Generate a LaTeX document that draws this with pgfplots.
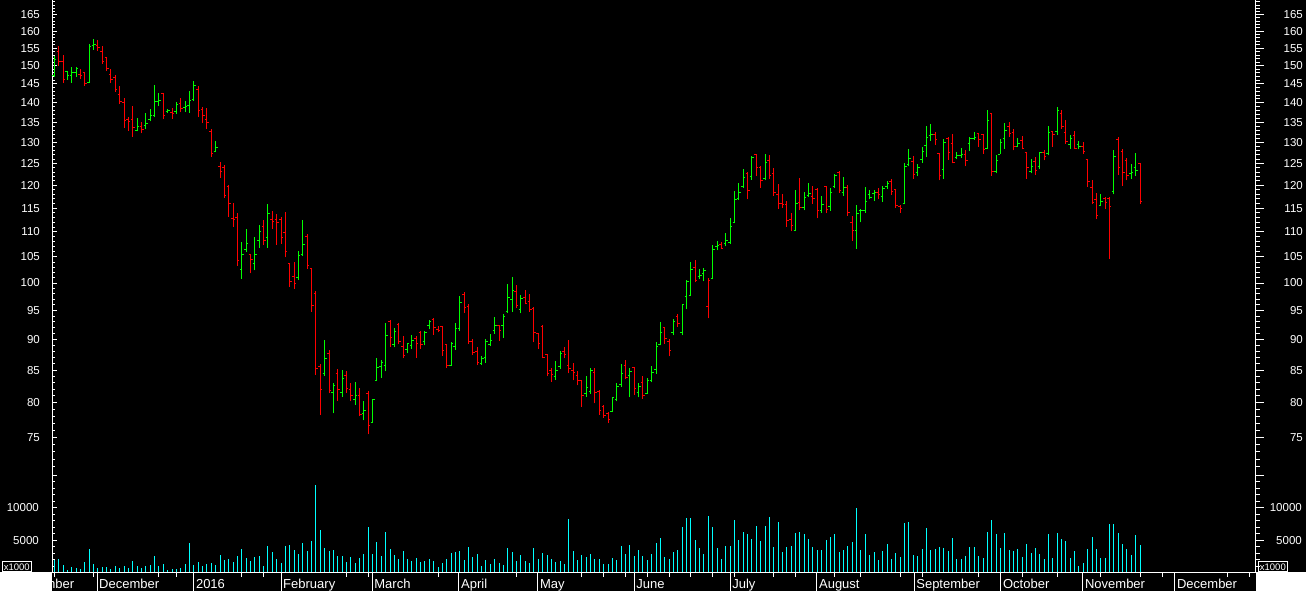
\documentclass[border=0pt]{standalone}
\usepackage{fontspec}
\setmainfont{Liberation Sans}
\usepackage{pgfplots}
\usepackage{pgfplotstable}
\pgfplotsset{compat=1.18}

\definecolor{upg}{RGB}{0,255,0}
\definecolor{dnr}{RGB}{255,0,0}
\definecolor{volc}{RGB}{0,255,255}

\pgfdeclareplotmark{otick}{\pgfpathmoveto{\pgfqpoint{-2pt}{0pt}}\pgfpathlineto{\pgfqpoint{0pt}{0pt}}\pgfusepathqstroke}
\pgfdeclareplotmark{ctick}{\pgfpathmoveto{\pgfqpoint{0pt}{0pt}}\pgfpathlineto{\pgfqpoint{2pt}{0pt}}\pgfusepathqstroke}
\pgfdeclareplotmark{nothing}{}

\newcommand\tickfont{\fontsize{11.5}{12}\selectfont}
\newcommand\monthfont{\fontsize{13}{14}\selectfont}

\pgfplotstableread{
i o h l c v u
0 147.2 152.8 147.0 151.8 1920 1
1 154.1 155.5 150.0 151.3 2070 0
2 151.3 153.1 145.2 146.1 1160 0
3 148.3 148.6 146.1 147.2 400 1
4 147.4 149.6 145.3 148.1 860 1
5 148.1 149.6 147.0 149.3 710 1
6 147.7 149.0 146.3 147.2 560 0
7 148.1 148.3 144.5 145.0 1620 0
8 145.3 156.2 145.2 155.5 3590 1
9 155.8 157.7 154.5 156.2 1310 1
10 155.9 157.4 154.3 155.3 710 0
11 154.0 155.6 150.6 151.3 860 0
12 152.3 152.5 148.5 149.3 860 0
13 147.6 149.1 145.2 146.1 560 0
14 146.7 147.4 142.9 143.6 1010 0
15 142.2 144.4 139.8 140.2 710 0
16 140.1 141.3 133.6 135.4 1010 0
17 135.7 136.3 132.9 135.2 710 0
18 135.6 139.2 131.4 133.6 1770 0
19 132.9 136.1 132.7 134.0 1010 1
20 133.9 135.1 132.2 133.2 710 0
21 134.2 137.4 133.3 134.6 1010 1
22 135.7 138.4 135.2 136.8 1160 1
23 136.6 144.7 136.3 140.2 2530 1
24 140.3 142.6 139.2 140.6 1010 1
25 142.5 142.6 135.7 136.6 1310 0
26 137.7 138.4 137.3 138.1 400 1
27 137.5 138.6 135.9 137.2 560 0
28 137.7 140.3 137.2 139.6 560 1
29 139.9 141.3 137.5 138.6 710 0
30 138.7 140.5 137.6 139.0 1310 1
31 139.2 143.1 137.4 140.7 4490 1
32 140.9 145.8 140.5 144.7 1160 1
33 143.6 144.4 136.3 138.0 1620 0
34 138.3 138.9 134.9 136.8 1010 0
35 135.6 138.6 133.3 135.0 1310 0
36 132.7 133.3 126.6 127.4 1460 0
37 127.9 130.4 127.7 128.8 1160 1
38 124.4 125.4 121.7 123.1 2680 0
39 124.0 124.7 117.3 117.8 1920 0
40 119.7 120.1 113.2 116.1 2070 0
41 112.9 116.1 111.1 112.5 1620 0
42 113.1 114.0 103.3 104.2 2530 0
43 102.5 108.0 100.8 105.5 3590 1
44 106.4 110.6 106.0 107.7 2220 1
45 105.4 105.6 101.8 104.5 1770 0
46 103.8 109.0 102.4 105.5 2370 1
47 108.3 111.4 106.8 110.1 2530 1
48 111.2 112.4 107.4 108.3 1010 0
49 108.9 115.9 106.8 113.9 4040 1
50 112.6 114.3 110.7 112.1 3130 0
51 112.6 113.8 107.4 111.9 2070 0
52 112.6 113.1 107.6 108.9 1460 0
53 109.9 114.2 104.9 106.1 4040 0
54 103.8 103.8 99.3 100.3 4190 0
55 101.3 104.0 98.9 100.0 3430 0
56 101.1 106.2 100.6 105.3 2830 1
57 105.4 112.5 105.2 107.5 4490 1
58 109.1 109.6 102.7 103.4 3280 0
59 102.7 102.9 94.8 95.9 4800 0
60 98.1 98.5 84.3 85.2 13480 0
61 85.6 86.0 78.2 82.0 6620 0
62 84.5 89.9 84.1 86.8 3740 1
63 87.7 88.3 81.4 81.9 3280 0
64 81.6 83.0 78.4 82.6 3430 1
65 84.5 85.2 80.3 82.0 2530 0
66 81.6 85.0 80.9 83.7 2530 1
67 84.2 84.9 81.5 82.2 1620 0
68 82.0 83.0 80.2 81.0 2370 0
69 80.5 83.2 79.7 81.1 1460 1
70 81.1 82.2 78.0 78.3 2220 0
71 78.4 80.3 77.4 78.9 2830 1
72 81.4 81.8 75.4 76.7 7070 0
73 77.1 80.6 77.1 80.4 2830 1
74 83.4 87.0 83.3 85.4 4650 1
75 85.6 86.6 83.8 86.2 2530 1
76 85.8 92.8 84.8 90.7 6310 1
77 93.1 93.4 88.7 90.4 3590 0
78 89.1 92.0 88.7 91.4 2680 1
79 92.5 92.8 89.2 89.6 2070 0
80 88.9 90.6 86.9 87.4 3280 0
81 88.4 89.4 87.7 89.3 2070 1
82 89.0 90.8 88.4 89.9 1770 1
83 90.2 90.6 87.0 89.4 2220 0
84 91.2 91.5 88.5 89.1 1620 0
85 89.6 91.5 89.0 91.2 1770 1
86 92.3 93.4 91.7 93.0 2070 1
87 93.5 93.7 90.8 92.1 1770 0
88 91.7 92.3 91.2 91.5 860 0
89 92.2 92.3 87.3 88.2 1460 0
90 89.1 89.1 85.3 85.8 2070 0
91 85.8 89.6 85.7 89.3 2980 1
92 88.8 92.8 88.3 91.9 3130 1
93 91.9 97.6 91.5 96.5 3280 1
94 97.8 98.4 94.6 95.6 1920 0
95 95.7 96.2 89.3 89.6 3890 0
96 89.7 90.1 87.5 87.9 2370 0
97 88.0 88.7 85.8 86.2 2830 0
98 86.1 87.3 85.8 86.9 1010 1
99 87.1 90.1 86.2 89.6 1920 1
100 89.1 91.0 88.9 89.8 1310 1
101 91.6 93.9 91.0 92.4 2070 1
102 92.3 92.4 89.8 91.6 1460 0
103 92.3 94.4 90.3 93.9 1160 1
104 94.8 99.8 94.6 97.3 3740 1
105 97.0 101.2 94.8 98.7 3130 1
106 98.4 99.6 95.4 95.9 1770 0
107 95.2 97.8 94.5 97.1 2680 1
108 97.3 98.7 96.1 96.3 1770 0
109 96.7 98.0 94.8 95.2 1460 0
110 95.4 95.7 89.5 91.2 3740 0
111 91.0 91.1 88.5 89.3 2070 0
112 92.2 92.4 86.9 87.1 2980 0
113 87.5 87.6 84.0 84.4 2680 0
114 84.9 85.4 83.2 84.3 2070 0
115 84.0 86.5 83.5 85.0 1620 1
116 85.5 88.1 85.2 87.7 1770 1
117 88.0 88.7 86.9 87.5 1310 0
118 85.8 89.9 84.5 85.2 8280 0
119 84.9 86.2 83.4 84.6 3280 0
120 84.1 84.9 82.6 83.4 1920 0
121 83.4 83.5 79.4 81.0 2680 0
122 81.4 84.0 80.9 82.3 2370 1
123 81.7 85.4 81.3 84.9 2830 1
124 84.7 85.4 79.9 81.6 2070 0
125 81.7 81.9 78.2 78.8 2070 0
126 79.4 79.7 77.8 78.1 1310 0
127 78.4 78.6 77.0 77.6 1310 0
128 78.7 80.9 78.6 80.7 2220 1
129 80.4 83.0 80.2 82.5 1920 1
130 82.7 85.9 82.4 84.5 4040 1
131 85.8 86.7 83.6 83.9 2830 0
132 84.2 85.4 80.8 84.8 4190 1
133 85.4 85.5 81.2 82.2 2530 0
134 81.5 83.0 80.8 82.5 3430 1
135 83.0 84.0 80.6 81.0 2530 0
136 81.4 83.8 81.3 83.3 1920 1
137 83.3 85.7 83.1 84.7 2830 1
138 85.1 89.6 84.4 88.9 4490 1
139 89.2 93.0 89.0 91.1 5250 1
140 92.0 92.1 89.3 90.2 2370 0
141 89.7 90.0 87.2 88.1 2070 0
142 91.1 93.5 90.7 93.0 3130 1
143 93.9 94.4 92.2 92.8 3430 0
144 91.1 96.2 90.7 96.0 7070 1
145 97.5 100.6 95.2 100.2 8430 1
146 97.7 104.0 97.7 102.6 8430 1
147 103.0 104.4 100.1 100.5 4950 0
148 101.2 102.7 100.8 101.5 3740 1
149 101.8 102.9 100.3 102.4 2830 1
150 95.8 101.0 93.6 100.4 8740 0
151 100.8 107.3 100.7 106.5 7070 1
152 107.1 108.2 106.3 107.3 3740 1
153 107.5 108.0 106.6 106.7 2070 0
154 107.7 109.8 107.1 108.3 4040 1
155 107.8 112.9 107.6 111.2 4040 1
156 112.0 118.8 111.8 116.9 8130 1
157 117.1 120.5 116.8 118.5 4950 1
158 119.7 123.7 119.5 121.8 6310 1
159 122.7 123.0 116.9 118.9 6010 0
160 122.0 126.8 121.3 126.3 5100 1
161 127.0 127.2 122.2 124.1 7220 0
162 124.1 124.4 119.5 121.2 4800 0
163 121.6 127.2 121.1 125.3 7220 1
164 125.8 126.9 121.5 122.3 8590 0
165 122.6 124.0 117.7 118.5 3890 0
166 118.0 120.3 114.9 115.9 7830 0
167 116.1 118.1 115.1 115.8 3130 0
168 115.8 116.5 111.1 112.4 3890 0
169 112.5 114.0 110.1 111.3 4040 0
170 110.4 119.0 110.4 116.1 6160 1
171 116.3 121.6 114.5 115.2 6310 0
172 115.2 118.5 114.5 117.4 5860 1
173 117.7 120.5 117.5 118.1 5100 1
174 117.5 119.9 116.0 117.1 3890 0
175 119.0 119.4 112.8 114.6 3430 0
176 114.6 117.7 114.0 115.7 3430 1
177 119.7 119.9 113.9 114.8 4950 0
178 115.4 119.4 114.4 118.3 5400 1
179 119.7 122.6 119.4 122.3 6010 1
180 123.0 123.2 118.3 118.8 3130 0
181 118.5 121.9 117.7 119.6 3430 1
182 119.6 120.1 113.4 114.1 4040 0
183 112.0 113.4 108.2 110.2 4650 0
184 110.2 115.7 106.6 113.9 9950 1
185 114.6 114.9 112.0 114.4 3430 1
186 114.6 119.6 114.0 116.5 6010 1
187 118.0 119.0 116.9 117.4 2680 1
188 118.1 119.0 116.5 118.3 3130 1
189 118.3 119.4 116.9 118.0 1920 0
190 117.5 119.9 116.4 119.3 3280 1
191 119.7 121.0 119.2 120.5 4340 1
192 120.8 121.5 117.9 118.7 2070 0
193 119.0 119.2 115.1 115.6 2980 0
194 115.4 115.6 114.0 114.9 2370 0
195 116.1 125.1 115.8 124.4 7680 1
196 124.7 128.4 124.3 126.1 7830 1
197 125.5 126.8 121.5 122.5 2680 0
198 122.8 124.9 122.1 124.1 2530 1
199 126.0 129.0 125.2 127.9 3590 1
200 129.2 134.1 126.5 131.3 6920 1
201 131.6 134.6 130.4 132.0 3430 1
202 132.0 132.5 129.4 130.6 3590 0
203 127.3 127.5 121.1 122.3 3890 0
204 123.6 130.9 121.5 130.1 3740 1
205 130.9 131.4 125.9 127.7 3280 0
206 129.8 132.1 125.0 125.2 5250 0
207 126.3 127.7 126.1 126.8 2070 1
208 126.8 128.7 126.4 127.0 2070 1
209 127.2 128.1 124.3 125.6 2530 0
210 129.8 131.4 127.9 130.9 3890 1
211 131.0 132.6 130.7 131.1 3890 1
212 132.1 132.3 129.0 130.6 2530 0
213 132.0 132.0 127.3 128.2 2220 0
214 128.5 138.1 128.4 135.5 6310 1
215 137.1 137.3 122.2 123.2 8130 0
216 123.2 127.0 122.7 125.8 5860 1
217 127.2 130.9 127.2 130.1 3740 1
218 131.0 134.8 128.5 133.0 6160 1
219 134.0 135.1 131.4 132.3 3430 0
220 132.5 133.3 128.1 129.1 3280 0
221 129.1 131.1 128.8 129.8 3590 1
222 130.5 131.6 128.3 128.6 2370 0
223 127.7 127.7 121.5 124.0 4340 0
224 123.1 126.1 122.7 124.2 2980 1
225 125.5 126.6 122.4 123.4 3740 0
226 124.3 127.7 123.8 127.6 2830 1
227 127.7 128.1 125.7 126.7 2070 0
228 127.4 134.1 126.9 132.5 5860 1
229 132.7 132.8 129.0 132.0 2220 0
230 132.8 138.9 131.9 138.1 6160 1
231 137.3 138.1 133.4 134.0 5100 0
232 132.5 135.6 129.7 130.2 4800 0
233 129.6 131.8 128.5 131.0 2220 1
234 131.8 132.9 128.4 128.6 3280 0
235 129.4 130.4 128.3 129.0 1000 1
236 128.9 130.1 127.3 127.9 1460 0
237 126.0 126.1 119.7 120.9 3590 0
238 119.6 121.2 115.8 116.2 5400 0
239 116.9 118.3 112.6 113.5 3590 0
240 115.6 118.1 115.6 116.5 2220 1
241 117.1 117.4 114.8 116.3 2220 0
242 117.1 117.4 104.6 115.4 7530 0
243 118.6 128.2 118.0 126.7 7530 1
244 130.6 131.4 122.4 124.0 6160 0
245 127.8 128.4 119.9 122.9 4340 0
246 125.8 126.3 121.1 122.3 3590 0
247 122.6 124.9 121.5 122.8 2680 1
248 124.0 127.5 122.2 123.4 5710 1
249 124.9 125.0 116.0 116.5 4190 0
}\data

\begin{document}
\begin{tikzpicture}[x=1pt,y=1pt]
\useasboundingbox (0,0) rectangle (1306,591);
\fill[black] (0,0) rectangle (1306,591);

% price panel (left scale + data)
\begin{axis}[scale only axis, width=1204pt, height=470pt,
  at={(52pt,121pt)}, anchor=south west,
  xmin=-0.53, xmax=275.6, ymode=log, ymin=70.56, ymax=169.6,
  axis x line=none, xtick=\empty, axis y line*=left,
  axis line style={white, line width=1pt},
  tick style={white, line width=1pt},
  ytick align=inside, major tick length=5pt, minor tick length=3pt,
  ytick={75,80,85,90,95,100,105,110,115,120,125,130,135,140,145,150,155,160,165},
  yticklabels={75,80,85,90,95,100,105,110,115,120,125,130,135,140,145,150,155,160,165},
  minor ytick={71,72,...,169},
  yticklabel style={text=white, font=\tickfont, inner sep=0pt, anchor=east, xshift=-12pt},
  clip=false]
\addplot[upg, only marks, mark=nothing, forget plot,
  restrict expr to domain={\thisrow{u}}{0.5:1.5},
  error bars/y dir=plus, error bars/y explicit, error bars/error mark=none,
  error bars/error bar style={line width=1pt, upg}]
  table[x=i, y=l, y error plus expr=\thisrow{h}-\thisrow{l}] {\data};
\addplot[dnr, only marks, mark=nothing, forget plot,
  restrict expr to domain={\thisrow{u}}{-0.5:0.5},
  error bars/y dir=plus, error bars/y explicit, error bars/error mark=none,
  error bars/error bar style={line width=1pt, dnr}]
  table[x=i, y=l, y error plus expr=\thisrow{h}-\thisrow{l}] {\data};
\addplot[upg, only marks, mark=otick, line width=1pt, restrict expr to domain={\thisrow{u}}{0.5:1.5}]
  table[x=i, y=o] {\data};
\addplot[upg, only marks, mark=ctick, line width=1pt, restrict expr to domain={\thisrow{u}}{0.5:1.5}]
  table[x=i, y=c] {\data};
\addplot[dnr, only marks, mark=otick, line width=1pt, restrict expr to domain={\thisrow{u}}{-0.5:0.5}]
  table[x=i, y=o] {\data};
\addplot[dnr, only marks, mark=ctick, line width=1pt, restrict expr to domain={\thisrow{u}}{-0.5:0.5}]
  table[x=i, y=c] {\data};
\end{axis}

% price panel right scale
\begin{axis}[scale only axis, width=1204pt, height=470pt,
  at={(52pt,121pt)}, anchor=south west,
  xmin=-0.53, xmax=275.6, ymode=log, ymin=70.56, ymax=169.6,
  axis x line=none, xtick=\empty, axis y line*=right,
  axis line style={white, line width=1pt},
  tick style={white, line width=1pt},
  ytick align=outside, major tick length=8pt, minor tick length=4pt,
  ytick={75,80,85,90,95,100,105,110,115,120,125,130,135,140,145,150,155,160,165},
  yticklabels={75,80,85,90,95,100,105,110,115,120,125,130,135,140,145,150,155,160,165},
  minor ytick={71,72,...,169},
  yticklabel style={text=white, font=\tickfont, inner sep=0pt, anchor=east, xshift=39pt},
  clip=false]
\addplot[draw=none] coordinates {(0,100)};
\end{axis}

% volume panel
\begin{axis}[scale only axis, width=1204pt, height=102.5pt,
  at={(52pt,18.5pt)}, anchor=south west,
  xmin=-0.53, xmax=275.6, ymin=0, ymax=15800,
  axis x line=none, xtick=\empty, axis y line*=left,
  axis line style={white, line width=1pt},
  tick style={white, line width=1pt},
  ytick align=inside, major tick length=5pt, minor tick length=3pt,
  scaled y ticks=false,
  ytick={0,5000,10000,15000}, yticklabels={,5000,10000,},
  minor ytick={1000,2000,...,15000},
  yticklabel style={text=white, font=\tickfont, inner sep=0pt, anchor=east, xshift=-13pt},
  clip=false]
\addplot[ycomb, volc, line width=1pt, mark=none] table[x=i, y=v] {\data};
\end{axis}
\begin{axis}[scale only axis, width=1204pt, height=102.5pt,
  at={(52pt,18.5pt)}, anchor=south west,
  xmin=-0.53, xmax=275.6, ymin=0, ymax=15800,
  axis x line=none, xtick=\empty, axis y line*=right,
  axis line style={white, line width=1pt},
  tick style={white, line width=1pt},
  ytick align=outside, major tick length=8pt, minor tick length=4pt,
  scaled y ticks=false,
  ytick={0,5000,10000,15000}, yticklabels={,5000,10000,},
  minor ytick={1000,2000,...,15000},
  yticklabel style={text=white, font=\tickfont, inner sep=0pt, anchor=east, xshift=38pt},
  clip=false]
\addplot[draw=none] coordinates {(0,1000)};
\end{axis}

% time axis strip
\begin{axis}[scale only axis, width=1204pt, height=10pt,
  at={(52pt,18.5pt)}, anchor=south west,
  xmin=-0.53, xmax=275.6, ymin=0, ymax=1,
  axis y line=none, axis x line*=bottom,
  axis line style={white, line width=1pt},
  tick style={white, line width=1pt},
  xtick={9.8,32.0,52.0,72.9,92.8,110.9,133.0,155.0,174.9,197.2,217.1,235.9,257.0},
  xticklabels={}, xtick align=outside, major tick length=18.5pt,
  minor xtick={0,9,24,28,43,48,67,72,88,106,121,126,131,136,141,146,151,156,165,170,179,185,194,199,212,222,230,240,249,254.2,269.1,274.2},
  minor tick length=4.5pt, clip=false]
\addplot[draw=none] coordinates {(0,0.5)};
\node[anchor=base west, text=white, font=\monthfont, inner sep=0pt, xshift=2pt, yshift=-16.2pt] at (axis cs:-9.7,0) {November};
\node[anchor=base west, text=white, font=\monthfont, inner sep=0pt, xshift=2pt, yshift=-16.2pt] at (axis cs:9.8,0) {December};
\node[anchor=base west, text=white, font=\monthfont, inner sep=0pt, xshift=2pt, yshift=-16.2pt] at (axis cs:32.0,0) {2016};
\node[anchor=base west, text=white, font=\monthfont, inner sep=0pt, xshift=2pt, yshift=-16.2pt] at (axis cs:52.0,0) {February};
\node[anchor=base west, text=white, font=\monthfont, inner sep=0pt, xshift=2pt, yshift=-16.2pt] at (axis cs:72.9,0) {March};
\node[anchor=base west, text=white, font=\monthfont, inner sep=0pt, xshift=2pt, yshift=-16.2pt] at (axis cs:92.8,0) {April};
\node[anchor=base west, text=white, font=\monthfont, inner sep=0pt, xshift=2pt, yshift=-16.2pt] at (axis cs:110.9,0) {May};
\node[anchor=base west, text=white, font=\monthfont, inner sep=0pt, xshift=2pt, yshift=-16.2pt] at (axis cs:133.0,0) {June};
\node[anchor=base west, text=white, font=\monthfont, inner sep=0pt, xshift=2pt, yshift=-16.2pt] at (axis cs:155.0,0) {July};
\node[anchor=base west, text=white, font=\monthfont, inner sep=0pt, xshift=2pt, yshift=-16.2pt] at (axis cs:174.9,0) {August};
\node[anchor=base west, text=white, font=\monthfont, inner sep=0pt, xshift=2pt, yshift=-16.2pt] at (axis cs:197.2,0) {September};
\node[anchor=base west, text=white, font=\monthfont, inner sep=0pt, xshift=2pt, yshift=-16.2pt] at (axis cs:217.1,0) {October};
\node[anchor=base west, text=white, font=\monthfont, inner sep=0pt, xshift=2pt, yshift=-16.2pt] at (axis cs:235.9,0) {November};
\node[anchor=base west, text=white, font=\monthfont, inner sep=0pt, xshift=2pt, yshift=-16.2pt] at (axis cs:257.0,0) {December};
\end{axis}

\fill[white] (0,0) rectangle (52,18.5);
\fill[white] (1256,0) rectangle (1306,18.5);
\node[draw=white, line width=0.8pt, text=white, font=\fontsize{9.5}{10}\selectfont, inner sep=1.5pt, anchor=south west] at (2,19) {x1000};
\node[draw=white, line width=0.8pt, text=white, font=\fontsize{9.5}{10}\selectfont, inner sep=1.5pt, anchor=south west] at (1258,19) {x1000};
\end{tikzpicture}
\end{document}
